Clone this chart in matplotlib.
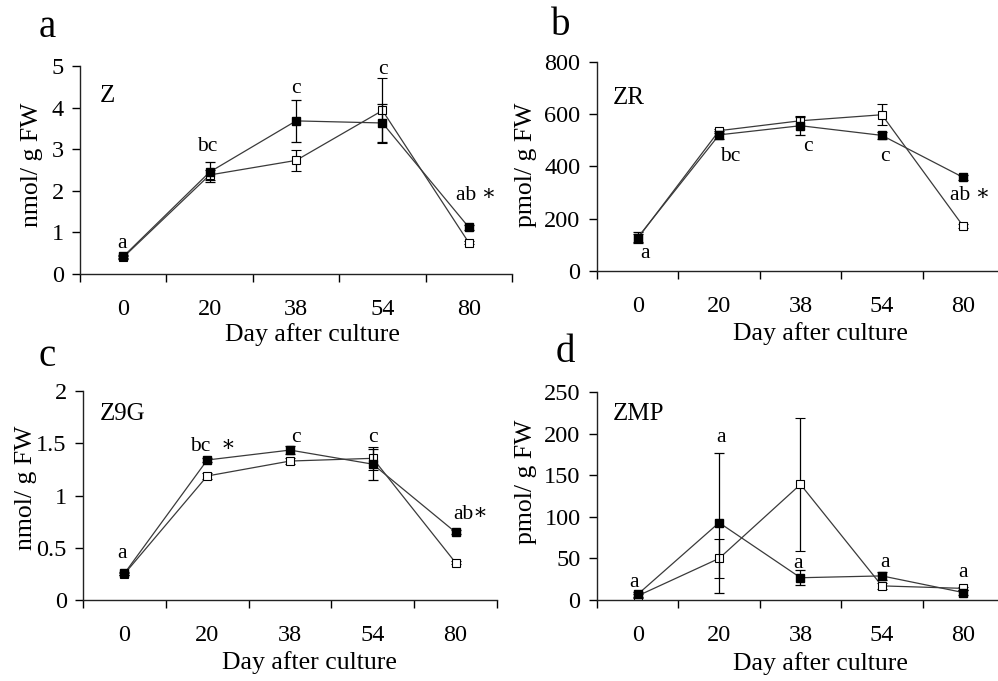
import numpy as np
import matplotlib
matplotlib.use("Agg")
import matplotlib.pyplot as plt

plt.rcParams["font.family"] = ["Liberation Serif", "DejaVu Serif"]

days = ["0", "20", "38", "54", "80"]

# Z (nmol/g FW)
z_filled = [0.42, 2.45, 3.68, 3.63, 1.12]
z_filled_err = [0.04, 0.25, 0.50, 0.46, 0.06]
z_open = [0.40, 2.38, 2.73, 3.93, 0.75]
z_open_err = [0.03, 0.12, 0.25, 0.77, 0.04]
z_labels = ["a", "bc", "c", "c", "ab \u2217"]

# ZR (pmol/g FW)
zr_filled = [128, 521, 556, 519, 358]
zr_filled_err = [20, 15, 35, 12, 10]
zr_open = [125, 537, 575, 598, 171]
zr_open_err = [15, 8, 20, 40, 8]
zr_labels = ["a", "bc", "c", "c", "ab \u2217"]

# Z9G (nmol/g FW)
z9g_filled = [0.255, 1.34, 1.435, 1.30, 0.648]
z9g_filled_err = [0.015, 0.02, 0.04, 0.15, 0.02]
z9g_open = [0.25, 1.187, 1.33, 1.356, 0.357]
z9g_open_err = [0.01, 0.03, 0.03, 0.11, 0.015]
z9g_labels = ["a", "bc  \u2217", "c", "c", "ab\u2217"]

# ZMP (pmol/g FW)
zmp_filled = [6.8, 93, 26.8, 29, 9]
zmp_filled_err = [3, 84, 9, 5, 3]
zmp_open = [5, 50, 139, 17, 14]
zmp_open_err = [2, 23, 80, 4, 2]
zmp_labels = ["a", "a", "a", "a", "a"]

panels = [
    dict(letter="a", name="Z", ylabel="nmol/ g FW", ylim=5, step=1,
         f=z_filled, fe=z_filled_err, o=z_open, oe=z_open_err, labels=z_labels,
         off=[(-1, 13), (-2, 26), (0, 32), (0, 53), (7, 32)],
         pos=[0.0802, 0.5977, 0.4329, 0.3054], letter_xy=(0.047, 0.960),
         name_xy=(0.046, 0.856), ylab_xy=(-0.112, 0.524), xlab_xy=(0.537, -0.293)),
    dict(letter="b", name="ZR", ylabel="pmol/ g FW", ylim=800, step=200,
         f=zr_filled, fe=zr_filled_err, o=zr_open, oe=zr_open_err, labels=zr_labels,
         off=[(7, -16), (11, -22), (7, -21), (3, -21), (7, -18)],
         pos=[0.5982, 0.6021, 0.4078, 0.3069], letter_xy=(0.562, 0.963),
         name_xy=(0.039, 0.828), ylab_xy=(-0.175, 0.507), xlab_xy=(0.548, -0.297)),
    dict(letter="c", name="Z9G", ylabel="nmol/ g FW", ylim=2, step=0.5,
         f=z9g_filled, fe=z9g_filled_err, o=z9g_open, oe=z9g_open_err, labels=z9g_labels,
         off=[(-2, 20), (6, 13), (6, 13), (0, 27), (15, 18)],
         pos=[0.0832, 0.1189, 0.4148, 0.3069], letter_xy=(0.047, 0.477),
         name_xy=(0.041, 0.89), ylab_xy=(-0.138, 0.536), xlab_xy=(0.546, -0.30)),
    dict(letter="d", name="ZMP", ylabel="pmol/ g FW", ylim=250, step=50,
         f=zmp_filled, fe=zmp_filled_err, o=zmp_open, oe=zmp_open_err, labels=zmp_labels,
         off=[(-4, 12), (2, 85), (-2, 14), (3, 13), (0, 20)],
         pos=[0.5982, 0.1189, 0.4078, 0.3054], letter_xy=(0.566, 0.482),
         name_xy=(0.039, 0.894), ylab_xy=(-0.175, 0.567), xlab_xy=(0.549, -0.303)),
]

fig = plt.figure(figsize=(9.98, 6.81), dpi=100)
x = np.arange(len(days))

for p in panels:
    ax = fig.add_axes(p["pos"])
    ax.errorbar(x, p["o"], yerr=p["oe"], color="#3a3a3a", lw=0.9,
                marker="s", ms=5.2, mfc="white", mec="black", mew=0.8,
                ecolor="black", elinewidth=0.9, capsize=3.5, capthick=0.9, zorder=2)
    ax.errorbar(x, p["f"], yerr=p["fe"], color="#3a3a3a", lw=0.9,
                marker="s", ms=6.2, mfc="black", mec="black",
                ecolor="black", elinewidth=0.9, capsize=3.5, capthick=0.9, zorder=3)

    for i, lab in enumerate(p["labels"]):
        dx, dy = p["off"][i]
        ax.annotate(lab, (x[i], p["f"][i]), xytext=(dx, dy), textcoords="offset pixels",
                    ha="center", va="center", fontsize=15.5)

    ax.set_xlim(-0.5, 4.5)
    ax.set_ylim(0, p["ylim"])
    ax.set_xticks(x)
    ax.set_xticklabels(days)
    ax.set_xticks(np.arange(-0.5, 4.6, 1.0), minor=True)
    ax.set_yticks(np.arange(0, p["ylim"] + p["step"] / 2, p["step"]))
    ax.set_yticklabels([f"{v:g}" for v in ax.get_yticks()])
    ax.tick_params(axis="x", which="major", length=0, pad=18, labelsize=17.5)
    ax.tick_params(axis="x", which="minor", length=5.5, width=1, direction="out")
    ax.tick_params(axis="y", length=5.8, width=1, direction="out", pad=6, labelsize=17.5)

    for s in ["top", "right"]:
        ax.spines[s].set_visible(False)
    for s in ["left", "bottom"]:
        ax.spines[s].set_linewidth(1)
        ax.spines[s].set_color("#222222")

    ax.set_ylabel(p["ylabel"], fontsize=18.5, va="center")
    ax.yaxis.set_label_coords(*p["ylab_xy"])
    ax.set_xlabel("Day after culture", fontsize=18.5, va="center")
    ax.xaxis.set_label_coords(*p["xlab_xy"])

    ax.text(p["name_xy"][0], p["name_xy"][1], p["name"], transform=ax.transAxes,
            ha="left", va="center", fontsize=18)
    fig.text(p["letter_xy"][0], p["letter_xy"][1], p["letter"],
             ha="center", va="center", fontsize=28)

fig.savefig("out.png", dpi=100)
